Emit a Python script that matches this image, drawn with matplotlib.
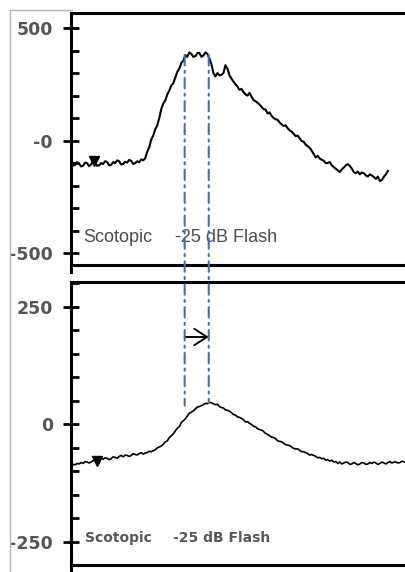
#!/usr/bin/env python3
"""Scotopic -25 dB flash responses, two stacked traces with peak-shift markers."""

import matplotlib

matplotlib.use("Agg")
import matplotlib.pyplot as plt
from matplotlib.lines import Line2D
from matplotlib.patches import ConnectionPatch
from matplotlib.ticker import MultipleLocator

# upper trace (time in ms, amplitude)
time_top = [
    0, 1.5, 3, 4.5, 6, 7.5, 9, 10.5, 12, 13.5, 15, 16.5, 18, 19.5, 21, 22.5, 24, 25.5, 27, 28.5,
    30, 31.5, 33, 34.5, 36, 37.5, 39, 40.5, 42, 43.5, 45, 46.5, 48, 49.5, 51, 52.5, 54, 55.5, 57, 58.5,
    60, 61.5, 63, 64.5, 66, 67.5, 69, 70.5, 72, 73.5, 75, 76.5, 78, 79.5, 81, 82.5, 84, 85.5, 87, 88.5,
    90, 91.5, 93, 94.5, 96, 97.5, 99, 100.5, 102, 103.5, 105, 106.5, 108, 109.5, 111, 112.5, 114, 115.5,
    117, 118.5, 120, 121.5, 123, 124.5, 126, 127.5, 129, 130.5, 132, 133.5, 135, 136.5, 138, 139.5,
    141, 142.5, 144, 145.5, 147, 148.5, 150, 151.5, 153, 154.5, 156, 157.5, 159, 160.5, 162, 163.5,
    165, 166.5, 168, 169.5, 171, 172.5, 174, 175.5, 177, 178.5, 180, 181.5, 183, 184.5, 186, 187.5,
    189, 190.5, 192, 193.5, 195, 196.5, 198, 199.5, 201, 202.5, 204, 205.5, 207, 208.5, 210, 211.5,
    213, 214.5, 216, 217.5, 219, 220.5, 222, 223.5, 225, 226.5, 228, 229.5, 231, 232.5, 234, 235.5, 237,
]
amp_top = [
    -95, -112, -108, -96, -102, -115, -112, -98, -100, -114, -106, -92, -98, -112, -110, -100, -104, -92, -95, -110,
    -108, -96, -100, -88, -92, -106, -104, -94, -98, -86, -90, -104, -100, -92, -96, -84, -88, -78, -50, -30,
    5, 22, 50, 68, 100, 140, 165, 178, 205, 222, 245, 255, 280, 305, 320, 345, 355, 380, 372, 392,
    385, 372, 375, 388, 390, 372, 378, 392, 385, 365, 340, 300, 285, 300, 290, 292, 300, 335,
    320, 290, 275, 262, 250, 240, 225, 230, 215, 205, 200, 212, 195, 180, 175, 168,
    160, 150, 140, 138, 120, 125, 110, 100, 95, 92, 80, 72, 65, 68, 55, 45,
    40, 30, 20, 22, 10, -2, -5, -18, -25, -32, -45, -60, -75, -68, -80, -85,
    -90, -100, -100, -95, -110, -118, -125, -132, -140, -128, -120, -110, -105, -112, -125, -140,
    -145, -138, -150, -142, -145, -155, -160, -150, -155, -162, -170, -160, -180, -175, -160, -150, -135,
]

# lower trace
time_bottom = [
    0, 1.5, 3, 4.5, 6, 7.5, 9, 10.5, 12, 13.5, 15, 16.5, 18, 19.5, 21, 22.5, 24, 25.5, 27, 28.5,
    30, 31.5, 33, 34.5, 36, 37.5, 39, 40.5, 42, 43.5, 45, 46.5, 48, 49.5, 51, 52.5, 54, 55.5, 57, 58.5,
    60, 61.5, 63, 64.5, 66, 67.5, 69, 70.5, 72, 73.5, 75, 76.5, 78, 79.5, 81, 82.5, 84, 85.5, 87, 88.5,
    90, 91.5, 93, 94.5, 96, 97.5, 99, 100.5, 102, 103.5, 105, 106.5, 108, 109.5, 111, 112.5, 114, 115.5,
    117, 118.5, 120, 121.5, 123, 124.5, 126, 127.5, 129, 130.5, 132, 133.5, 135, 136.5, 138, 139.5,
    141, 142.5, 144, 145.5, 147, 148.5, 150, 151.5, 153, 154.5, 156, 157.5, 159, 160.5, 162, 163.5,
    165, 166.5, 168, 169.5, 171, 172.5, 174, 175.5, 177, 178.5, 180, 181.5, 183, 184.5, 186, 187.5,
    189, 190.5, 192, 193.5, 195, 196.5, 198, 199.5, 201, 202.5, 204, 205.5, 207, 208.5, 210, 211.5,
    213, 214.5, 216, 217.5, 219, 220.5, 222, 223.5, 225, 226.5, 228, 229.5, 231, 232.5, 234, 235.5,
    237, 238.5, 240, 241.5, 243, 244.5, 246, 247.5, 249,
]
amp_bottom = [
    -88, -85, -86, -83, -84, -81, -83, -79, -80, -82, -80, -77, -76, -78, -76, -72, -74, -71, -72, -75,
    -73, -69, -70, -72, -68, -66, -69, -65, -66, -68, -66, -62, -64, -65, -62, -60, -63, -61, -60, -57,
    -58, -56, -54, -50, -48, -46, -42, -37, -35, -28, -24, -20, -14, -8, -5, 4, 8, 12, 18, 24,
    26, 29, 33, 37, 38, 40, 42, 45, 44, 47, 46, 44, 42, 43, 38, 36, 35, 31,
    30, 28, 25, 21, 20, 16, 15, 13, 10, 5, 6, 2, 0, -4, -5, -9,
    -11, -12, -15, -19, -21, -24, -27, -28, -30, -35, -36, -37, -40, -43, -44, -45,
    -48, -51, -52, -52, -55, -58, -58, -60, -62, -65, -64, -66, -68, -71, -70, -73,
    -72, -76, -75, -78, -76, -80, -79, -83, -80, -84, -82, -80, -81, -85, -84, -81,
    -83, -86, -84, -81, -82, -85, -84, -81, -83, -80, -82, -85, -83, -80, -82, -84,
    -81, -79, -82, -80, -80, -82, -81, -78, -80,
]

# stimulus markers (time, amplitude)
marker_top = (17, -92)
marker_bottom = (19.5, -77)

# peak times used for the dash-dot guides
peak_times = [85, 103]
guide_top_amp = 380
guide_bottom_amp = [40, 46]
arrow_amp = 186

label_left = "Scotopic"
label_right = "-25 dB Flash"

W, H = 405, 572
BLUE = "#3f6fb8"
GREY_TXT = "#4f4856"

fig = plt.figure(figsize=(W / 100, H / 100), dpi=100)


def px_box(left, top, right, bottom):
    return [left / W, 1 - bottom / H, (right - left) / W, (bottom - top) / H]


ax1 = fig.add_axes(px_box(71, 13, 412, 265))
ax2 = fig.add_axes(px_box(71, 282, 412, 565))

for ax in (ax1, ax2):
    ax.set_xlim(0, 255)
    ax.set_xticks([])
    for side in ("left", "top", "bottom"):
        ax.spines[side].set_linewidth(2.2)
    ax.spines["right"].set_visible(False)
    ax.tick_params(axis="y", which="major", direction="inout", length=12, width=2.0,
                   pad=7.0, labelsize=12.5, labelcolor="#57525c")
    ax.tick_params(axis="y", which="minor", direction="in", length=6, width=2.0)

ax1.set_ylim(-553, 567)
ax1.set_yticks([-500, 0, 500], ["-500", "-0", "500"], fontweight="bold")
ax1.yaxis.set_minor_locator(MultipleLocator(100))

ax2.set_ylim(-299, 303)
ax2.set_yticks([-250, 0, 250], ["-250", "0", "250"], fontweight="bold")
ax2.yaxis.set_minor_locator(MultipleLocator(50))

ax1.plot(time_top, amp_top, color="black", lw=1.5)
ax2.plot(time_bottom, amp_bottom, color="black", lw=1.2)
ax1.plot(*marker_top, marker="v", color="black", ms=7)
ax2.plot(*marker_bottom, marker="v", color="black", ms=6.5)

ax1.text(9, -433, label_left, family="Liberation Sans", fontsize=13, color=GREY_TXT, va="center")
ax1.text(78, -433, label_right, family="Liberation Sans", fontsize=13, color=GREY_TXT, va="center")
ax2.text(10.5, -241, label_left, family="DejaVu Sans", fontweight="bold", fontsize=10,
         color="#5a5560", va="center")
ax2.text(76, -241, label_right, family="DejaVu Sans", fontweight="bold", fontsize=10,
         color="#5a5560", va="center")

for t, end in zip(peak_times, guide_bottom_amp):
    con = ConnectionPatch(xyA=(t, guide_top_amp), coordsA=ax1.transData,
                          xyB=(t, end), coordsB=ax2.transData,
                          color=BLUE, lw=1.5, linestyle=(0, (5, 2.5, 1, 2.5)))
    fig.add_artist(con)

ax2.annotate("", xy=(peak_times[1], arrow_amp), xytext=(peak_times[0], arrow_amp),
             arrowprops=dict(arrowstyle="->,head_length=0.65,head_width=0.42",
                             lw=1.4, color="black", mutation_scale=14,
                             shrinkA=0, shrinkB=0))

# spine stubs running past the lower borders, and the grey frame of the source
fig.add_artist(Line2D([71 / W, 71 / W], [1 - 262 / H, 1 - 272 / H], color="black", lw=2.2))
fig.add_artist(Line2D([71 / W, 71 / W], [1 - 560 / H, 0], color="black", lw=2.2))
fig.add_artist(Line2D([10 / W, 10 / W], [1 - 10 / H, 0], color="#b4b4b4", lw=1.0))
fig.add_artist(Line2D([10 / W, 72 / W], [1 - 10 / H, 1 - 10 / H], color="#b4b4b4", lw=1.0))

fig.savefig("out.png", dpi=100)
